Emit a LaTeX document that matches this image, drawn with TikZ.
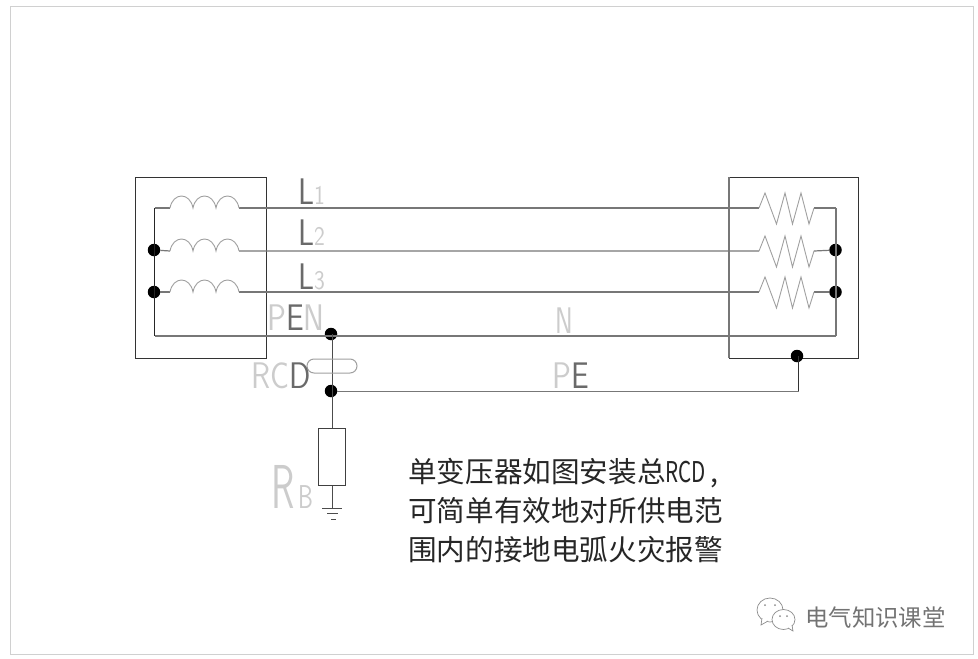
\documentclass[tikz,border=0pt]{standalone}
\usepackage{fontspec}
\usepackage{graphicx}
\newfontfamily\cjk{Noto Sans CJK SC}
\definecolor{wire}{HTML}{777777}
\definecolor{coil}{HTML}{A0A0A0}
\definecolor{frameline}{HTML}{D0D0D0}
\definecolor{cadlight}{HTML}{CCCCCC}
\definecolor{caddark}{HTML}{6A6A6A}
\newcommand\cadtext[1]{\scalebox{0.85}[1]{#1}}
\tikzset{
  page/.style={draw=frameline,line width=1pt,fill=white},
  housing/.style={draw=black!80,line width=1pt},
  wireline/.style={draw=wire,line width=1.2pt},
  busline/.style={draw=black!85,line width=1pt},
  coilline/.style={draw=coil,line width=0.9pt},
  joint/.style={circle,fill=black,inner sep=0pt,minimum size=12.5pt},
  cadlabel/.style={inner sep=0pt,anchor=base west,text=cadlight,font=\sffamily\fontsize{37}{37}\selectfont},
  cadsmall/.style={inner sep=0pt,anchor=base west,text=cadlight,font=\sffamily\fontsize{27}{27}\selectfont},
  note/.style={inner sep=0pt,anchor=west,text=black!85,font=\cjk\fontsize{28.6}{28.6}\selectfont},
  brand/.style={inner sep=0pt,anchor=west,text=black!55,font=\cjk\fontsize{23.4}{23.4}\selectfont}
}
\begin{document}
\begin{tikzpicture}[x=1pt,y=-1pt]
\useasboundingbox (0,0) rectangle (978,659);
\draw[page] (10,6) rectangle (973,654);
% housings
\draw[housing] (135,177) rectangle (266,358);
\draw[housing] (729,177) rectangle (858,358);
\draw[draw=wire,line width=1.2pt] (729,177) -- (729,358);
% named points
\coordinate (l1a) at (154.5,208);
\coordinate (i1a) at (170,208);
\coordinate (i1b) at (239,208);
\coordinate (r1a) at (759,208);
\coordinate (r1b) at (814,208);
\coordinate (b1) at (836,208);
\coordinate (i2a) at (170,251);
\coordinate (i2b) at (239,251);
\coordinate (r2a) at (759,251);
\coordinate (r2b) at (814,251);
\coordinate (i3a) at (170,292);
\coordinate (i3b) at (239,292);
\coordinate (r3a) at (759,292);
\coordinate (r3b) at (814,292);
\coordinate (n0) at (154.5,336);
\coordinate (n1) at (836,336);
\coordinate (pe1) at (798.5,391);
\node[joint] (jl2) at (154,250) {};
\node[joint] (jl3) at (154,292) {};
\node[joint] (jr2) at (835.5,250) {};
\node[joint] (jr3) at (835.5,292) {};
\node[joint] (pen) at (331,334) {};
\node[joint] (rcdj) at (331,391) {};
\node[joint] (pej) at (797,356) {};
% RB
\node[draw=black!75,line width=1pt,minimum width=26.5pt,minimum height=57pt,inner sep=0pt] (rb) at (332,456.5) {};
\coordinate (g0) at (332,508);
% wires
\draw[wireline] (l1a) -- (i1a) (i1b) -- (r1a) (r1b) -- (b1);
\draw[wireline] (jl2) -- (i2a) (i2b) -- (r2a) (r2b) -- (jr2);
\draw[wireline] (jl3) -- (i3a) (i3b) -- (r3a) (r3b) -- (jr3);
\draw[wireline] (n0) -- (n1);
\draw[busline] (l1a) -- (n0);
\draw[wireline] (b1) -- (n1);
\draw[draw=black!70,line width=1pt] (332,334) -- (332,391) (332,391) -- (rb.north);
\draw[draw=wire,line width=1pt] (rcdj) -- (pe1);
\draw[draw=black!80,line width=1pt] (pe1) -- (798.5,356);
% coils
\foreach \y in {208,251,292}{
  \draw[coilline] (170,\y) .. controls (173,{\y-16}) and (190,{\y-16}) .. (193,\y)
    .. controls (196,{\y-16}) and (213,{\y-16}) .. (216,\y)
    .. controls (219,{\y-16}) and (236,{\y-16}) .. (239,\y);
  \draw[coilline] (759,\y) -- (765,{\y-15}) -- (776.5,{\y+16}) -- (785,{\y-15}) -- (792.5,{\y+16}) -- (801,{\y-15}) -- (809,{\y+16}) -- (814,\y);
}
% RCD toroid
\draw[draw=coil,line width=1pt,rounded corners=7pt] (307,359) rectangle (357,373);
% ground
\draw[draw=black!70,line width=1pt] (rb.south) -- (g0);
\draw[draw=black!70,line width=1pt] (322,508) -- (342,508) (327,513) -- (338,513) (331,519) -- (336,519);
% CAD labels
\node[cadlabel] (tl1) at (298,204) {\cadtext{\textcolor{caddark}{L}}};
\node[cadsmall] (tl1s) at (314,204) {\cadtext{1}};
\node[cadlabel] (tl2) at (298,245) {\cadtext{\textcolor{caddark}{L}}};
\node[cadsmall] (tl2s) at (314,245) {\cadtext{2}};
\node[cadlabel] (tl3) at (298,289) {\cadtext{\textcolor{caddark}{L}}};
\node[cadsmall] (tl3s) at (314,289) {\cadtext{3}};
\node[cadlabel] (tpen) at (267,330) {\cadtext{P\textcolor{caddark}{E}N}};
\node[cadlabel] (tn) at (555,333) {\scalebox{0.72}[1]{N}};
\node[cadlabel] (trcd) at (251,388) {\cadtext{RC\textcolor{caddark}{D}}};
\node[cadlabel] (tpe) at (552,388) {\cadtext{P\textcolor{caddark}{E}}};
\node[inner sep=0pt,anchor=base west,text=cadlight,font=\sffamily\fontsize{62}{62}\selectfont] (trb) at (271,508) {\scalebox{0.62}[1]{R}};
\node[inner sep=0pt,anchor=base west,text=cadlight,font=\sffamily\fontsize{33}{33}\selectfont] (trbs) at (298,508) {\scalebox{0.72}[1]{B}};
% note
\node[note] (note1) at (408,473) {单变压器如图安装总\scalebox{0.72}[1]{RCD}\makebox[0.5em][l]{\,,}};
\node[note] (note2) at (408,511) {可简单有效地对所供电范};
\node[note] (note3) at (408,550) {围内的接地电弧火灾报警};
% brand
\draw[draw=black!45,line width=0.7pt,fill=white] (770,610) ellipse [x radius=13,y radius=12];
\draw[draw=black!45,line width=0.7pt,fill=white] (762,618) -- (761,625) -- (768,621);
\draw[draw=black!45,line width=0.7pt,fill=white] (783.5,619.5) ellipse [x radius=11.5,y radius=10];
\draw[draw=black!45,line width=0.7pt,fill=white] (788,628) -- (793,631) -- (792,625);
\fill[black!45] (765,605) circle (1pt) (775,605) circle (1pt) (780,616) circle (1pt) (787,616) circle (1pt);
\node[brand] (brandtext) at (805,618) {电气知识课堂};
\end{tikzpicture}
\end{document}
